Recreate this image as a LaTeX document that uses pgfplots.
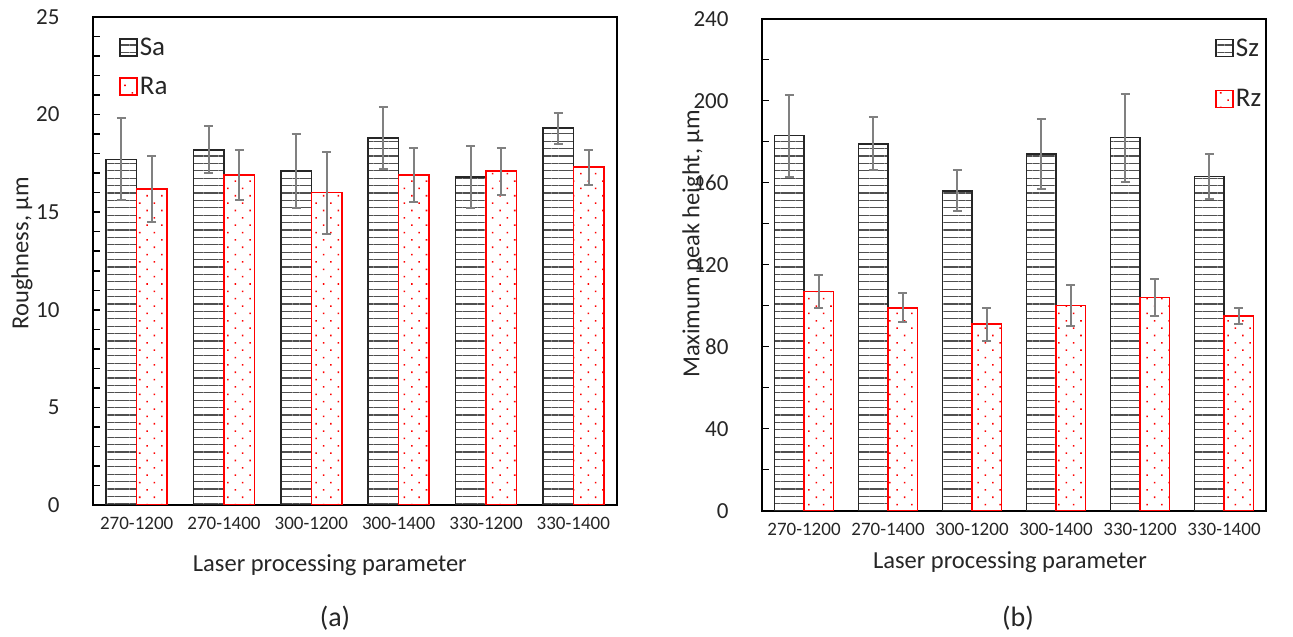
\documentclass[border=0pt]{standalone}
\usepackage{fontspec}
\setmainfont{Carlito}
\usepackage{pgfplots}
\pgfplotsset{compat=1.18}
\usepackage{pgfplotstable}
\usetikzlibrary{patterns.meta}

\definecolor{hatchgray}{HTML}{505050}
\definecolor{errgray}{HTML}{808080}

\newcommand{\ticksize}{\fontsize{23bp}{27bp}\selectfont}
\newcommand{\xticksize}{\fontsize{19bp}{23bp}\selectfont}
\newcommand{\labsize}{\fontsize{24.5bp}{29bp}\selectfont}
\newcommand{\legsize}{\fontsize{27bp}{32bp}\selectfont}
\newcommand{\capsize}{\fontsize{28bp}{33bp}\selectfont}

\pgfplotstableread{
x Sa Saerr Ra Raerr
0 17.7 2.1 16.2 1.7
1 18.2 1.2 16.9 1.3
2 17.1 1.9 16.0 2.1
3 18.8 1.6 16.9 1.4
4 16.8 1.6 17.1 1.2
5 19.3 0.8 17.3 0.9
}\tabA

\pgfplotstableread{
x Sz Szerr Rz Rzerr
0 183 20 107 8
1 179 13 99 7
2 156 10 91 8
3 174 17 100 10
4 182 21.5 104 9
5 163 11 95 4
}\tabB

\pgfplotsset{
  sstyle/.style={draw=black!85, line width=1.6bp,
    pattern={Lines[angle=0,distance=7.4bp,line width=1.3bp]}, pattern color=hatchgray},
  rstyle/.style={draw=red, line width=1.6bp,
    pattern={Dots[angle=45,distance=10.4bp,radius=1.1bp]}, pattern color=red},
  myaxis/.style={
    scale only axis,
    ybar,
    xmin=-0.5, xmax=5.5, ymin=0,
    xtick={0,...,5},
    xticklabels={270-1200,270-1400,300-1200,300-1400,330-1200,330-1400},
    x tick style={draw=none},
    tick align=inside,
    ytick pos=left,
    major tick length=7bp, minor tick length=7bp,
    axis line style={line width=2.2bp, black},
    y tick style={line width=1.5bp, black},
    bar width=0.35,
    ticklabel style={font=\ticksize, text=black!85},
    xticklabel style={font=\xticksize, yshift=-9bp},
    yticklabel style={xshift=-30bp},
    /pgf/number format/assume math mode=true,
    label style={font=\labsize, text=black!85},
    legend cell align=left,
    legend style={draw=none, fill=none, font=\legsize, text=black!85},
    legend image code/.code={\draw[#1] (0bp,-8.5bp) rectangle (17bp,8.5bp);},
    error bars/y dir=both, error bars/y explicit,
    error bars/error mark=-,
    error bars/error bar style={errgray, line width=2bp, solid},
    error bars/error mark options={errgray, line width=2bp, mark size=4.5bp, rotate=90, solid},
  }
}

\begin{document}
\begin{tikzpicture}
\useasboundingbox (0,0) rectangle (1293bp,637bp);

\begin{axis}[myaxis, at={(93bp,132bp)}, anchor=south west,
  width=524bp, height=488bp,
  ymax=25, ytick={0,5,...,25}, minor ytick={0,...,25},
  xlabel={Laser processing parameter},
  ylabel={Roughness, µm},
  xlabel style={at={(axis description cs:0.452,-0.123)}, anchor=center},
  ylabel style={at={(axis description cs:-0.1355,0.516)}, anchor=center},
  legend style={at={(0.044,0.965)}, anchor=north west, row sep=16bp}]
\addplot[sstyle, bar shift=-0.175] table[x=x, y=Sa, y error=Saerr] {\tabA};
\addlegendentry{Sa}
\addplot[rstyle, bar shift=0.175] table[x=x, y=Ra, y error=Raerr] {\tabA};
\addlegendentry{Ra}
\end{axis}

\begin{axis}[myaxis, at={(762bp,126.3bp)}, anchor=south west,
  width=504bp, height=492bp,
  ymax=240, ytick={0,40,...,240}, minor ytick={20,60,...,220},
  xlabel={Laser processing parameter},
  ylabel={Maximum peak height, µm},
  xlabel style={at={(axis description cs:0.492,-0.104)}, anchor=center},
  ylabel style={at={(axis description cs:-0.137,0.542)}, anchor=center},
  legend style={at={(0.893,0.968)}, anchor=north west, row sep=28bp}]
\addplot[sstyle, bar shift=-0.175] table[x=x, y=Sz, y error=Szerr] {\tabB};
\addlegendentry{Sz}
\addplot[rstyle, bar shift=0.175] table[x=x, y=Rz, y error=Rzerr] {\tabB};
\addlegendentry{Rz}
\end{axis}

\node[font=\capsize, text=black!85] at (335bp,19bp) {(a)};
\node[font=\capsize, text=black!85] at (1018bp,19bp) {(b)};
\end{tikzpicture}
\end{document}
